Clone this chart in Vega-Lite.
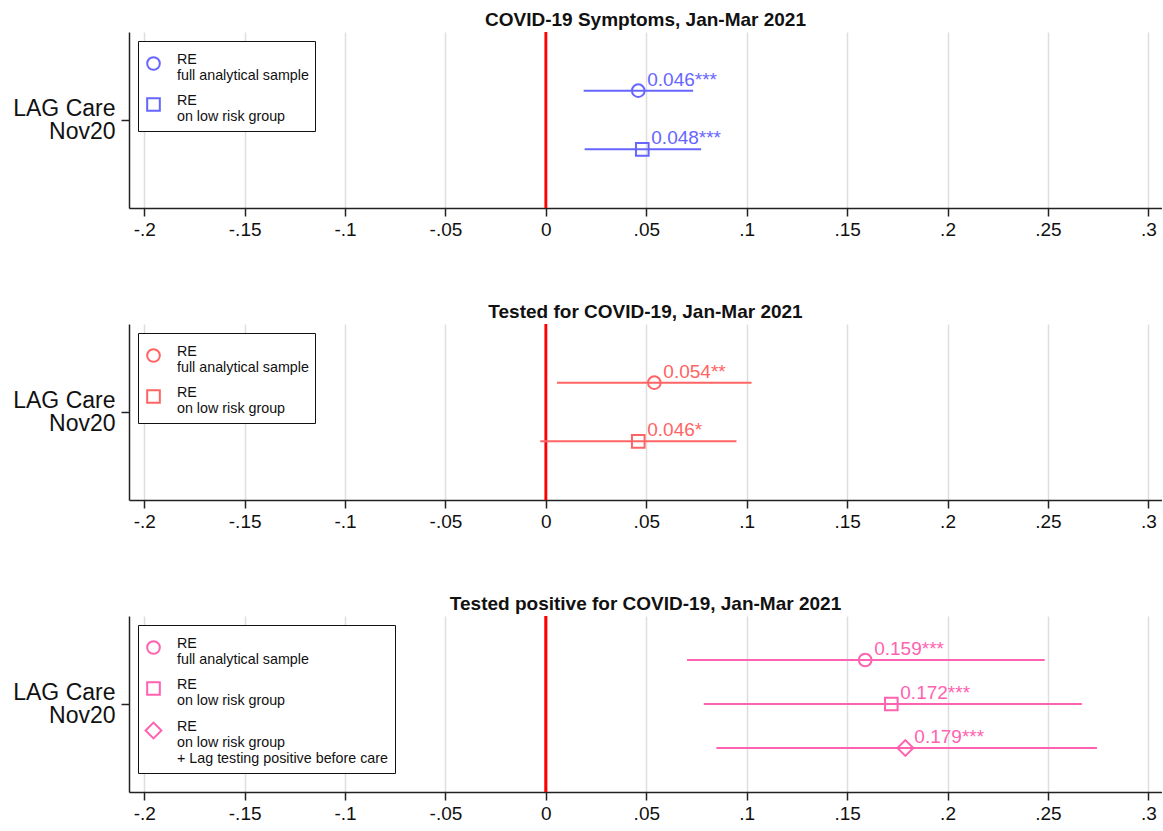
{
  "$schema": "https://vega.github.io/schema/vega-lite/v6.json",
  "padding": {"left": 5, "top": 10, "right": 0, "bottom": 0},
  "spacing": 63,
  "config": {
    "font": "Liberation Sans",
    "view": {"stroke": null},
    "title": {"fontSize": 19, "fontWeight": "bold", "color": "#111111", "offset": 1, "baseline": "alphabetic", "anchor": "middle"},
    "axisX": {"domainColor": "#222222", "domainWidth": 1.5, "tickColor": "#222222", "tickWidth": 1.5, "tickSize": 8, "labelFontSize": 19, "labelColor": "#111111", "labelPadding": 4, "grid": true, "gridColor": "#dedede", "gridWidth": 1.5, "title": null},
    "axisY": {"domainColor": "#222222", "domainWidth": 1.5, "tickColor": "#222222", "tickWidth": 1.5, "tickSize": 8, "labelFontSize": 23, "labelLineHeight": 23, "labelOffset": -11, "labelColor": "#111111", "labelPadding": 6, "grid": false, "title": null, "minExtent": 124, "maxExtent": 124},
    "legend": {"orient": "top-left", "offset": 9, "strokeColor": "#111111", "fillColor": "white", "padding": 6, "labelFontSize": 14.3, "labelBaseline": "alphabetic", "labelColor": "#111111", "labelLimit": 400, "labelOffset": 16, "rowPadding": 9, "symbolOffset": 2, "symbolSize": 160, "symbolStrokeWidth": 2, "symbolFillColor": "transparent", "titleFontSize": 6, "titlePadding": 3, "titleColor": "white"}
  },
  "data": {"values": [
    {"panel": 1, "var": "LAG Care Nov20", "model": "RE|full analytical sample", "est": 0.046, "lo": 0.0188, "hi": 0.0733, "label": "0.046***"},
    {"panel": 1, "var": "LAG Care Nov20", "model": "RE|on low risk group", "est": 0.048, "lo": 0.0193, "hi": 0.0773, "label": "0.048***"},
    {"panel": 2, "var": "LAG Care Nov20", "model": "RE|full analytical sample", "est": 0.054, "lo": 0.0055, "hi": 0.1024, "label": "0.054**"},
    {"panel": 2, "var": "LAG Care Nov20", "model": "RE|on low risk group", "est": 0.046, "lo": -0.0028, "hi": 0.0949, "label": "0.046*"},
    {"panel": 3, "var": "LAG Care Nov20", "model": "RE|full analytical sample", "est": 0.159, "lo": 0.0703, "hi": 0.2484, "label": "0.159***"},
    {"panel": 3, "var": "LAG Care Nov20", "model": "RE|on low risk group", "est": 0.172, "lo": 0.0786, "hi": 0.2669, "label": "0.172***"},
    {"panel": 3, "var": "LAG Care Nov20", "model": "RE|on low risk group|+ Lag testing positive before care", "est": 0.179, "lo": 0.0849, "hi": 0.2744, "label": "0.179***"}
  ]},
  "resolve": {"scale": {"shape": "independent", "x": "independent", "y": "independent", "yOffset": "independent"}, "legend": {"shape": "independent"}},
  "vconcat": [
    {
      "title": "COVID-19 Symptoms, Jan-Mar 2021",
      "width": 1033, "height": 176,
      "transform": [{"filter": "datum.panel == 1"}],
      "layer": [
        {"mark": {"type": "rule", "color": "#ff0000", "strokeWidth": 2.5},
         "encoding": {"x": {"datum": 0, "type": "quantitative", "scale": {"domain": [-0.2076, 0.3068], "nice": false, "zero": false}, "axis": {"values": [-0.2, -0.15, -0.1, -0.05, 0, 0.05, 0.1, 0.15, 0.2, 0.25, 0.3], "labelExpr": "datum.value == 0 ? '0' : (datum.value < 0 ? '-' : '') + replace(format(abs(datum.value), '.2~f'), '0.', '.')"}}}},
        {"mark": {"type": "rule", "color": "#6666ff", "strokeWidth": 2},
         "encoding": {"x": {"field": "lo", "type": "quantitative"}, "x2": {"field": "hi"},
           "y": {"field": "var", "type": "nominal", "scale": {"paddingInner": 0, "paddingOuter": 0}, "axis": {"labelExpr": "['LAG Care', 'Nov20']"}},
           "yOffset": {"field": "model", "type": "nominal", "scale": {"domain": ["RE|full analytical sample", "RE|on low risk group"], "paddingInner": 0, "paddingOuter": 0.5}}}},
        {"mark": {"type": "point", "color": "#6666ff", "filled": false, "strokeWidth": 2, "size": 160, "opacity": 1},
         "encoding": {"x": {"field": "est", "type": "quantitative"},
           "y": {"field": "var", "type": "nominal"},
           "yOffset": {"field": "model", "type": "nominal"},
           "shape": {"field": "model", "type": "nominal", "scale": {"domain": ["RE|full analytical sample", "RE|on low risk group"], "range": ["circle", "square"]}, "legend": {"title": " ", "symbolStrokeColor": "#6666ff", "labelExpr": "split(datum.label, '|')"}}}},
        {"mark": {"type": "text", "color": "#6666ff", "fontSize": 19, "align": "left", "baseline": "alphabetic", "dx": 9, "dy": -5},
         "encoding": {"x": {"field": "est", "type": "quantitative"},
           "y": {"field": "var", "type": "nominal"},
           "yOffset": {"field": "model", "type": "nominal"},
           "text": {"field": "label"}}}
      ]
    },
    {
      "title": "Tested for COVID-19, Jan-Mar 2021",
      "width": 1033, "height": 176,
      "transform": [{"filter": "datum.panel == 2"}],
      "layer": [
        {"mark": {"type": "rule", "color": "#ff0000", "strokeWidth": 2.5},
         "encoding": {"x": {"datum": 0, "type": "quantitative", "scale": {"domain": [-0.2076, 0.3068], "nice": false, "zero": false}, "axis": {"values": [-0.2, -0.15, -0.1, -0.05, 0, 0.05, 0.1, 0.15, 0.2, 0.25, 0.3], "labelExpr": "datum.value == 0 ? '0' : (datum.value < 0 ? '-' : '') + replace(format(abs(datum.value), '.2~f'), '0.', '.')"}}}},
        {"mark": {"type": "rule", "color": "#ff6464", "strokeWidth": 2},
         "encoding": {"x": {"field": "lo", "type": "quantitative"}, "x2": {"field": "hi"},
           "y": {"field": "var", "type": "nominal", "scale": {"paddingInner": 0, "paddingOuter": 0}, "axis": {"labelExpr": "['LAG Care', 'Nov20']"}},
           "yOffset": {"field": "model", "type": "nominal", "scale": {"domain": ["RE|full analytical sample", "RE|on low risk group"], "paddingInner": 0, "paddingOuter": 0.5}}}},
        {"mark": {"type": "point", "color": "#ff6464", "filled": false, "strokeWidth": 2, "size": 160, "opacity": 1},
         "encoding": {"x": {"field": "est", "type": "quantitative"},
           "y": {"field": "var", "type": "nominal"},
           "yOffset": {"field": "model", "type": "nominal"},
           "shape": {"field": "model", "type": "nominal", "scale": {"domain": ["RE|full analytical sample", "RE|on low risk group"], "range": ["circle", "square"]}, "legend": {"title": " ", "symbolStrokeColor": "#ff6464", "labelExpr": "split(datum.label, '|')"}}}},
        {"mark": {"type": "text", "color": "#ff6464", "fontSize": 19, "align": "left", "baseline": "alphabetic", "dx": 9, "dy": -5},
         "encoding": {"x": {"field": "est", "type": "quantitative"},
           "y": {"field": "var", "type": "nominal"},
           "yOffset": {"field": "model", "type": "nominal"},
           "text": {"field": "label"}}}
      ]
    },
    {
      "title": "Tested positive for COVID-19, Jan-Mar 2021",
      "width": 1033, "height": 176,
      "transform": [{"filter": "datum.panel == 3"}],
      "layer": [
        {"mark": {"type": "rule", "color": "#ff0000", "strokeWidth": 2.5},
         "encoding": {"x": {"datum": 0, "type": "quantitative", "scale": {"domain": [-0.2076, 0.3068], "nice": false, "zero": false}, "axis": {"values": [-0.2, -0.15, -0.1, -0.05, 0, 0.05, 0.1, 0.15, 0.2, 0.25, 0.3], "labelExpr": "datum.value == 0 ? '0' : (datum.value < 0 ? '-' : '') + replace(format(abs(datum.value), '.2~f'), '0.', '.')"}}}},
        {"mark": {"type": "rule", "color": "#ff62b0", "strokeWidth": 2},
         "encoding": {"x": {"field": "lo", "type": "quantitative"}, "x2": {"field": "hi"},
           "y": {"field": "var", "type": "nominal", "scale": {"paddingInner": 0, "paddingOuter": 0}, "axis": {"labelExpr": "['LAG Care', 'Nov20']"}},
           "yOffset": {"field": "model", "type": "nominal", "scale": {"domain": ["RE|full analytical sample", "RE|on low risk group", "RE|on low risk group|+ Lag testing positive before care"], "paddingInner": 0, "paddingOuter": 0.5}}}},
        {"mark": {"type": "point", "color": "#ff62b0", "filled": false, "strokeWidth": 2, "size": 160, "opacity": 1},
         "encoding": {"x": {"field": "est", "type": "quantitative"},
           "y": {"field": "var", "type": "nominal"},
           "yOffset": {"field": "model", "type": "nominal"},
           "shape": {"field": "model", "type": "nominal", "scale": {"domain": ["RE|full analytical sample", "RE|on low risk group", "RE|on low risk group|+ Lag testing positive before care"], "range": ["circle", "square", "M-1.25,0L0,-1.25L1.25,0L0,1.25Z"]}, "legend": {"title": " ", "symbolStrokeColor": "#ff62b0", "labelExpr": "split(datum.label, '|')"}}}},
        {"mark": {"type": "text", "color": "#ff62b0", "fontSize": 19, "align": "left", "baseline": "alphabetic", "dx": 9, "dy": -5},
         "encoding": {"x": {"field": "est", "type": "quantitative"},
           "y": {"field": "var", "type": "nominal"},
           "yOffset": {"field": "model", "type": "nominal"},
           "text": {"field": "label"}}}
      ]
    }
  ]
}
